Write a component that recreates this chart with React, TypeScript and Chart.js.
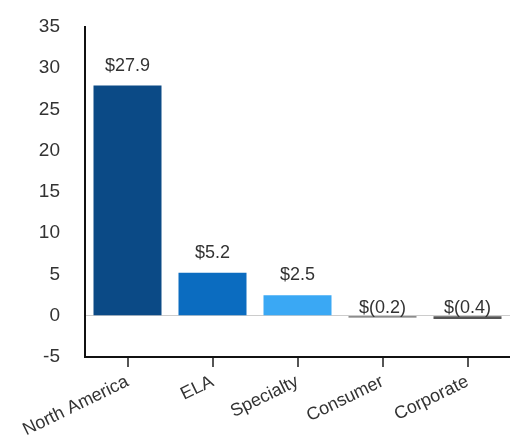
import React, { useEffect, useRef } from "react";
import { Chart, registerables } from "chart.js";

Chart.register(...registerables);

const categories = ["North America", "ELA", "Specialty", "Consumer", "Corporate"];
const values = [27.9, 5.2, 2.5, -0.2, -0.4];
const valueLabels = ["$27.9", "$5.2", "$2.5", "$(0.2)", "$(0.4)"];
const barColors = ["#0b4a86", "#0b6cc0", "#3aa8f4", "#666666", "#555555"];
const yMin = -5;
const yMax = 35;
const yStep = 5;

const FONT = "'Liberation Sans', Arial, sans-serif";

const labelPlugin = {
  id: "valueLabels",
  afterDatasetsDraw(chart: any) {
    const ctx = chart.ctx;
    const meta = chart.getDatasetMeta(0);
    const yScale = chart.scales.y;
    const zeroY = yScale.getPixelForValue(0);
    ctx.save();
    ctx.font = `18px ${FONT}`;
    ctx.fillStyle = "#333333";
    ctx.textAlign = "center";
    ctx.textBaseline = "alphabetic";
    meta.data.forEach((bar: any, i: number) => {
      const v = values[i];
      const y = v >= 0 ? bar.y - 15 : zeroY - 3;
      ctx.fillText(valueLabels[i], bar.x, y);
    });
    ctx.restore();
  },
};

export default function App() {
  const ref = useRef<HTMLCanvasElement | null>(null);
  useEffect(() => {
    if (!ref.current) return;
    const chart = new Chart(ref.current, {
      type: "bar",
      data: {
        labels: categories,
        datasets: [
          {
            data: values,
            backgroundColor: barColors,
            barPercentage: 0.8,
            categoryPercentage: 1,
          },
        ],
      },
      options: {
        responsive: false,
        animation: false,
        layout: { padding: { top: 27, left: 0, right: 0, bottom: 0 } },
        plugins: { legend: { display: false }, tooltip: { enabled: false } },
        scales: {
          x: {
            afterFit: (s: any) => {
              s.height = 87;
            },
            grid: {
              display: true,
              drawOnChartArea: false,
              drawTicks: true,
              tickLength: 10,
              offset: false,
              color: "#555555",
              lineWidth: 2,
            },
            border: { display: true, color: "#111111", width: 2 },
            ticks: {
              minRotation: 26,
              maxRotation: 26,
              padding: 4,
              color: "#333333",
              font: { size: 18, family: FONT },
            },
          },
          y: {
            min: yMin,
            max: yMax,
            afterFit: (s: any) => {
              s.width = 85;
            },
            grid: {
              drawTicks: true,
              tickLength: 25,
              tickColor: "rgba(0,0,0,0)",
              color: (c: any) => (c.tick && c.tick.value === 0 ? "#cccccc" : "rgba(0,0,0,0)"),
              lineWidth: 1,
            },
            border: { display: true, color: "#111111", width: 2 },
            ticks: {
              stepSize: yStep,
              padding: 0,
              color: "#333333",
              font: { size: 19, family: FONT },
            },
          },
        },
      },
      plugins: [labelPlugin],
    });
    return () => chart.destroy();
  }, []);
  return (
    <div style={{ position: "fixed", left: 0, top: 0, width: 510, height: 444, background: "#fff" }}>
      <canvas ref={ref} width={510} height={444} />
    </div>
  );
}
